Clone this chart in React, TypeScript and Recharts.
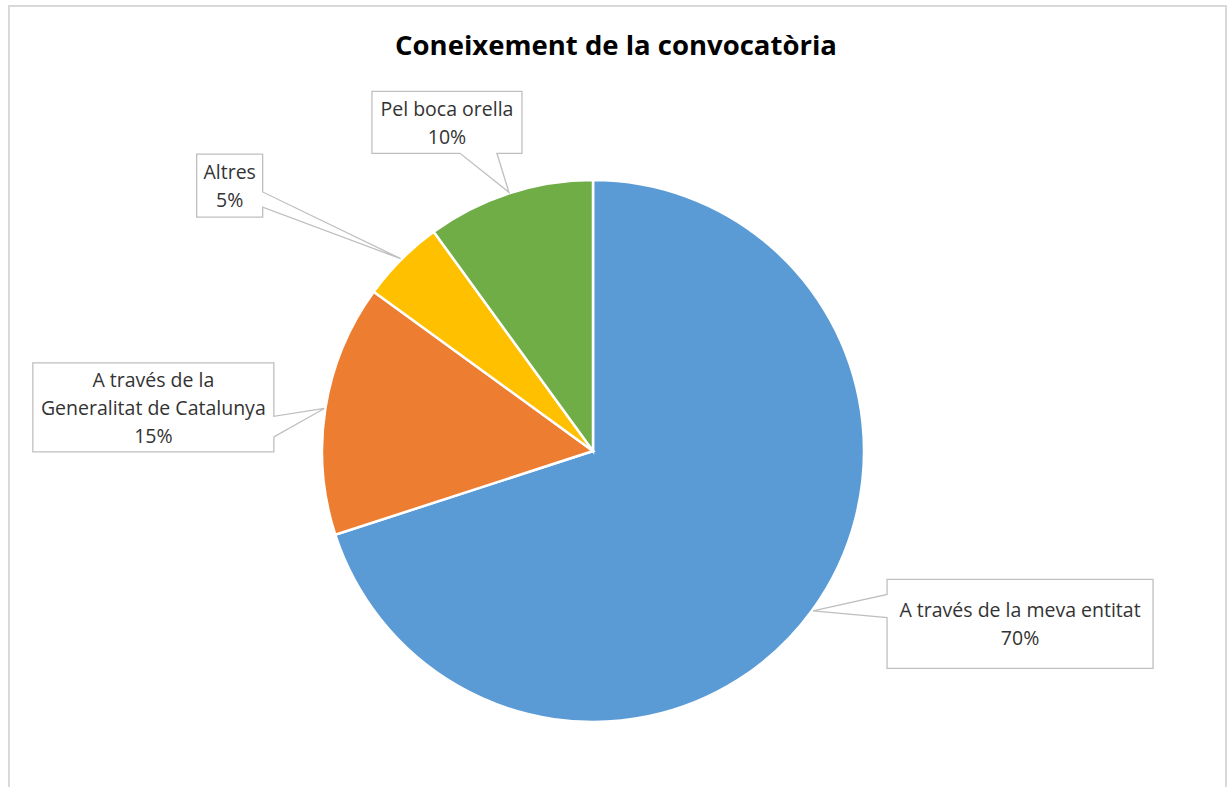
import React from "react";
import { PieChart, Pie, Cell } from "recharts";

// Coneixement de la convocatòria — pie with callout labels

const categories = [
    "A través de la meva entitat",
    "A través de la\nGeneralitat de Catalunya",
    "Altres",
    "Pel boca orella",
];
const values = [70, 15, 5, 10];
const colors = ["#5B9BD5", "#ED7D31", "#FFC000", "#70AD47"];

// callout box placement relative to the slice anchor (dx, dy = box centre offset)
// side = edge carrying the pointer, t0/t1 = pointer base along that edge (0..1)
const calloutLayout = [
    { dx: 207, dy: 13, w: 266, h: 89, side: "left", t0: 0.17, t1: 0.43 },
    { dx: -171, dy: -1, w: 241, h: 89, side: "right", t0: 0.6, t1: 0.83 },
    { dx: -171, dy: -73, w: 66, h: 63, side: "right", t0: 0.6, t1: 0.84 },
    { dx: -62, dy: -70, w: 150, h: 62, side: "bottom", t0: 0.587, t1: 0.833 },
];

const data = categories.map((name, i) => ({ name, value: values[i] }));

const RADIAN = Math.PI / 180;
const FONT = "'Open Sans', 'Noto Sans', sans-serif";

function calloutPath(
    x0: number,
    y0: number,
    x1: number,
    y1: number,
    ax: number,
    ay: number,
    side: string,
    t0: number,
    t1: number
) {
    const w = x1 - x0;
    const h = y1 - y0;
    const pts: [number, number][] = [[x0, y0], [x1, y0]];
    if (side === "right") {
        pts.push([x1, y0 + t0 * h], [ax, ay], [x1, y0 + t1 * h]);
    }
    pts.push([x1, y1]);
    if (side === "bottom") {
        pts.push([x0 + t1 * w, y1], [ax, ay], [x0 + t0 * w, y1]);
    }
    pts.push([x0, y1]);
    if (side === "left") {
        pts.push([x0, y0 + t1 * h], [ax, ay], [x0, y0 + t0 * h]);
    }
    return "M" + pts.map((p) => `${p[0]},${p[1]}`).join("L") + "Z";
}

function renderCallout(props: any) {
    const { cx, cy, midAngle, outerRadius, index, percent, name } = props;
    const layout = calloutLayout[index];
    const ax = cx + (outerRadius + 1) * Math.cos(-midAngle * RADIAN);
    const ay = cy + (outerRadius + 1) * Math.sin(-midAngle * RADIAN);
    const bx = ax + layout.dx;
    const by = ay + layout.dy;
    const x0 = bx - layout.w / 2;
    const y0 = by - layout.h / 2;
    const x1 = bx + layout.w / 2;
    const y1 = by + layout.h / 2;
    const lines = [...String(name).split("\n"), `${Math.round(percent * 100)}%`];
    const lineH = 28;
    const firstY = by - ((lines.length - 1) * lineH) / 2;
    return (
        <g key={`callout-${index}`}>
            <path
                d={calloutPath(x0, y0, x1, y1, ax, ay, layout.side, layout.t0, layout.t1)}
                fill="#ffffff"
                stroke="#bfbfbf"
                strokeWidth={1.3}
            />
            {lines.map((line, i) => (
                <text
                    key={i}
                    x={bx}
                    y={firstY + i * lineH}
                    textAnchor="middle"
                    dominantBaseline="central"
                    fontFamily={FONT}
                    fontSize={19.5}
                    fill="#333333"
                >
                    {line}
                </text>
            ))}
        </g>
    );
}

export default function App() {
    return (
        <div style={{ position: "absolute", left: 0, top: 0, width: 1229, height: 787, overflow: "hidden", background: "#fff" }}>
            <div
                style={{
                    position: "absolute",
                    left: 8,
                    top: 5,
                    width: 1219,
                    height: 820,
                    border: "2px solid #d9d9d9",
                    boxSizing: "border-box",
                }}
            />
            <div
                style={{
                    position: "absolute",
                    left: 0,
                    top: 24,
                    width: 1232,
                    textAlign: "center",
                    fontFamily: FONT,
                    fontWeight: 700,
                    fontSize: 27.5,
                    color: "#000",
                    lineHeight: "42px",
                }}
            >
                Coneixement de la convocatòria
            </div>
            <div style={{ position: "absolute", left: 0, top: 0 }}>
                <PieChart width={1229} height={787} margin={{ top: 0, right: 0, bottom: 0, left: 0 }}>
                    <Pie
                        data={data}
                        dataKey="value"
                        nameKey="name"
                        cx={593}
                        cy={451}
                        outerRadius={271}
                        startAngle={90}
                        endAngle={-270}
                        stroke="#ffffff"
                        strokeWidth={2.5}
                        label={renderCallout}
                        labelLine={false}
                        isAnimationActive={false}
                    >
                        {data.map((entry, i) => (
                            <Cell key={entry.name} fill={colors[i]} />
                        ))}
                    </Pie>
                </PieChart>
            </div>
        </div>
    );
}
